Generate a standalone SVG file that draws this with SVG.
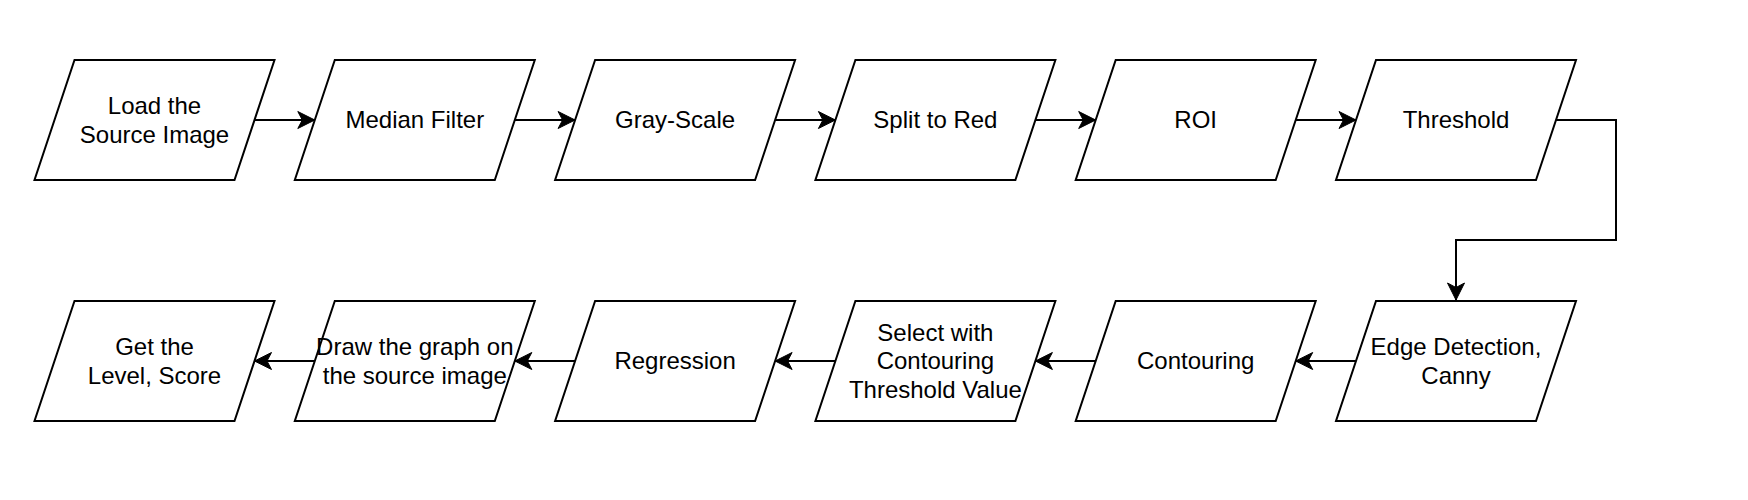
<svg xmlns="http://www.w3.org/2000/svg" width="1748" height="500" viewBox="0 0 1748 500">
<defs>
<style>
.n{fill:#fff;stroke:#000;stroke-width:2}
.t{font-family:"Liberation Sans",Arial,sans-serif;font-size:24px;fill:#000;text-anchor:middle}
.c{fill:none;stroke:#000;stroke-width:2}
</style>
<marker id="a" markerUnits="userSpaceOnUse" markerWidth="22" markerHeight="22" viewBox="-19 -11 22 22" refX="0" refY="0" orient="auto">
<path d="M0,0 L-17,-8.5 L-12.5,0 L-17,8.5 Z" fill="#000" stroke="#000" stroke-width="1"/>
</marker>
</defs>
<rect width="1748" height="500" fill="#fff"/>
<g id="connectors">
<path class="c" d="M254.5,120 L314.8,120" marker-end="url(#a)"/>
<path class="c" d="M514.8,120 L575.1,120" marker-end="url(#a)"/>
<path class="c" d="M775.1,120 L835.4,120" marker-end="url(#a)"/>
<path class="c" d="M1035.4,120 L1095.7,120" marker-end="url(#a)"/>
<path class="c" d="M1295.7,120 L1356,120" marker-end="url(#a)"/>
<path class="c" d="M1556,120 L1616,120 L1616,240 L1456,240 L1456,300" marker-end="url(#a)"/>
<path class="c" d="M1356,361 L1295.7,361" marker-end="url(#a)"/>
<path class="c" d="M1095.7,361 L1035.4,361" marker-end="url(#a)"/>
<path class="c" d="M835.4,361 L775.1,361" marker-end="url(#a)"/>
<path class="c" d="M575.1,361 L514.8,361" marker-end="url(#a)"/>
<path class="c" d="M314.8,361 L254.5,361" marker-end="url(#a)"/>
</g>
<g id="n1"><path class="n" d="M74.5,60 L274.5,60 L234.5,180 L34.5,180 Z"/><text class="t" x="154.5" y="113.9">Load the</text><text class="t" x="154.5" y="142.7">Source Image</text></g>
<g id="n2"><path class="n" d="M334.8,60 L534.8,60 L494.8,180 L294.8,180 Z"/><text class="t" x="414.8" y="128.3">Median Filter</text></g>
<g id="n3"><path class="n" d="M595.1,60 L795.1,60 L755.1,180 L555.1,180 Z"/><text class="t" x="675.1" y="128.3">Gray-Scale</text></g>
<g id="n4"><path class="n" d="M855.4,60 L1055.4,60 L1015.4,180 L815.4,180 Z"/><text class="t" x="935.4" y="128.3">Split to Red</text></g>
<g id="n5"><path class="n" d="M1115.7,60 L1315.7,60 L1275.7,180 L1075.7,180 Z"/><text class="t" x="1195.7" y="128.3">ROI</text></g>
<g id="n6"><path class="n" d="M1376,60 L1576,60 L1536,180 L1336,180 Z"/><text class="t" x="1456" y="128.3">Threshold</text></g>
<g id="n7"><path class="n" d="M1376,301 L1576,301 L1536,421 L1336,421 Z"/><text class="t" x="1456" y="354.9">Edge Detection,</text><text class="t" x="1456" y="383.7">Canny</text></g>
<g id="n8"><path class="n" d="M1115.7,301 L1315.7,301 L1275.7,421 L1075.7,421 Z"/><text class="t" x="1195.7" y="369.3">Contouring</text></g>
<g id="n9"><path class="n" d="M855.4,301 L1055.4,301 L1015.4,421 L815.4,421 Z"/><text class="t" x="935.4" y="340.5">Select with</text><text class="t" x="935.4" y="369.3">Contouring</text><text class="t" x="935.4" y="398.1">Threshold Value</text></g>
<g id="n10"><path class="n" d="M595.1,301 L795.1,301 L755.1,421 L555.1,421 Z"/><text class="t" x="675.1" y="369.3">Regression</text></g>
<g id="n11"><path class="n" d="M334.8,301 L534.8,301 L494.8,421 L294.8,421 Z"/><text class="t" x="414.8" y="354.9">Draw the graph on</text><text class="t" x="414.8" y="383.7">the source image</text></g>
<g id="n12"><path class="n" d="M74.5,301 L274.5,301 L234.5,421 L34.5,421 Z"/><text class="t" x="154.5" y="354.9">Get the</text><text class="t" x="154.5" y="383.7">Level, Score</text></g>
</svg>
